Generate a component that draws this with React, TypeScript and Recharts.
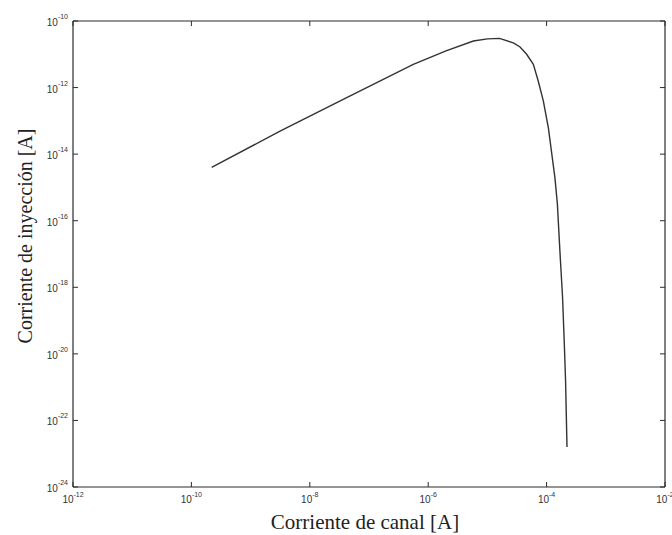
import { Line, LineChart, XAxis, YAxis } from "recharts";

// channel current [A] vs injection current [A]
const canal = [
  2.2e-10, 3.2e-9, 4.2e-8, 5.6e-7, 2.0e-6, 5.8e-6, 1.0e-5, 1.6e-5, 2.75e-5,
  3.56e-5, 4.6e-5, 5.97e-5, 7.2e-5, 8.8e-5, 1.07e-4, 1.38e-4, 1.52e-4, 1.7e-4,
  1.86e-4, 2.0e-4, 2.09e-4, 2.21e-4,
];
const inyeccion = [
  4.0e-15, 5.0e-14, 5.0e-13, 5.0e-12, 1.26e-11, 2.5e-11, 2.9e-11, 3.0e-11,
  2.2e-11, 1.66e-11, 1.0e-11, 5.0e-12, 1.6e-12, 4.0e-13, 6.3e-14, 2.0e-15,
  3.2e-16, 8e-18, 5.1e-19, 1.6e-20, 1.6e-21, 1.6e-23,
];

const xExps = [-12, -10, -8, -6, -4, -2];
const yExps = [-10, -12, -14, -16, -18, -20, -22, -24];
const xTicks = xExps.map((e) => Math.pow(10, e));
const yTicks = yExps.map((e) => Math.pow(10, e));

const data = canal.map((x, i) => ({ x, y: inyeccion[i] }));

const INK = "#2b2b2b";
const TICK_FONT = "'Liberation Sans', Arial, sans-serif";
const TITLE_FONT = "'Liberation Serif', 'Times New Roman', serif";

const exponent = (v: number) => Math.round(Math.log10(v));

function BottomTick({ x, y, payload }: any) {
  return (
    <g>
      <line x1={x} y1={y} x2={x} y2={y - 5} stroke={INK} />
      <text
        x={x}
        y={y + 16}
        textAnchor="middle"
        fontFamily={TICK_FONT}
        fontSize={10}
        fill="#333"
      >
        <tspan>10</tspan>
        <tspan dy={-6} fontSize={7}>
          {exponent(payload.value)}
        </tspan>
      </text>
    </g>
  );
}

function LeftTick({ x, y, payload }: any) {
  return (
    <g>
      <line x1={x} y1={y} x2={x + 5} y2={y} stroke={INK} />
      <text
        x={x - 5}
        y={y + 5}
        textAnchor="end"
        fontFamily={TICK_FONT}
        fontSize={10}
        fill="#333"
      >
        <tspan>10</tspan>
        <tspan dy={-7} fontSize={7}>
          {exponent(payload.value)}
        </tspan>
      </text>
    </g>
  );
}

function TopTick({ x, y }: any) {
  return <line x1={x} y1={y} x2={x} y2={y + 5} stroke={INK} />;
}

function RightTick({ x, y }: any) {
  return <line x1={x} y1={y} x2={x - 5} y2={y} stroke={INK} />;
}

export default function App() {
  return (
    <div style={{ position: "absolute", left: 0, top: 0, width: 672, height: 535, background: "#fff" }}>
      <LineChart
        width={672}
        height={535}
        data={data}
        margin={{ top: 20, right: 6, left: 13, bottom: 0 }}
      >
        <XAxis
          xAxisId="b"
          dataKey="x"
          type="number"
          scale="log"
          domain={[1e-12, 1e-2]}
          ticks={xTicks}
          allowDataOverflow
          height={48}
          tickSize={0}
          tickMargin={0}
          tickLine={false}
          axisLine={{ stroke: INK, strokeWidth: 1.2 }}
          tick={<BottomTick />}
          interval={0}
        />
        <XAxis
          xAxisId="t"
          dataKey="x"
          type="number"
          scale="log"
          orientation="top"
          domain={[1e-12, 1e-2]}
          ticks={xTicks}
          allowDataOverflow
          height={1}
          tickSize={0}
          tickMargin={0}
          tickLine={false}
          axisLine={{ stroke: INK, strokeWidth: 1.2 }}
          tick={<TopTick />}
          interval={0}
        />
        <YAxis
          yAxisId="l"
          dataKey="y"
          type="number"
          scale="log"
          domain={[1e-24, 1e-10]}
          ticks={yTicks}
          allowDataOverflow
          width={60}
          tickSize={0}
          tickMargin={0}
          tickLine={false}
          axisLine={{ stroke: INK, strokeWidth: 1.2 }}
          tick={<LeftTick />}
          interval={0}
        />
        <YAxis
          yAxisId="r"
          dataKey="y"
          type="number"
          scale="log"
          orientation="right"
          domain={[1e-24, 1e-10]}
          ticks={yTicks}
          allowDataOverflow
          width={1}
          tickSize={0}
          tickMargin={0}
          tickLine={false}
          axisLine={{ stroke: INK, strokeWidth: 1.2 }}
          tick={<RightTick />}
          interval={0}
        />
        <Line
          xAxisId="b"
          yAxisId="l"
          dataKey="y"
          type="linear"
          stroke="#333"
          strokeWidth={1.4}
          dot={false}
          isAnimationActive={false}
        />
      </LineChart>
      <div
        style={{
          position: "absolute",
          left: 365,
          top: 522,
          transform: "translate(-50%, -50%)",
          whiteSpace: "nowrap",
          fontFamily: TITLE_FONT,
          fontSize: 21,
          color: "#222",
        }}
      >
        Corriente de canal [A]
      </div>
      <div
        style={{
          position: "absolute",
          left: 25,
          top: 236,
          transform: "translate(-50%, -50%) rotate(-90deg)",
          whiteSpace: "nowrap",
          fontFamily: TITLE_FONT,
          fontSize: 20,
          color: "#222",
        }}
      >
        Corriente de inyección [A]
      </div>
    </div>
  );
}
